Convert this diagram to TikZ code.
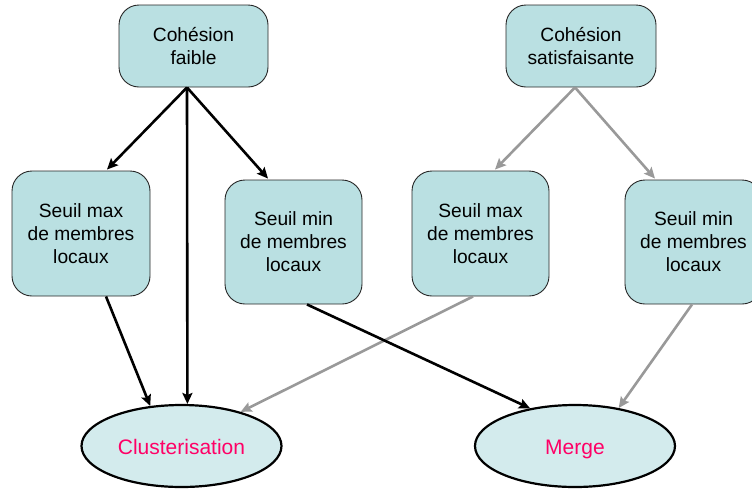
\documentclass[tikz,border=0pt]{standalone}
\usepackage{fontspec}
\setmainfont{Liberation Sans}
\usetikzlibrary{shapes.geometric,arrows.meta}
\definecolor{boxfill}{RGB}{186,224,226}
\definecolor{ellfill}{RGB}{211,235,237}
\definecolor{pinktxt}{RGB}{255,0,102}
\definecolor{grayarr}{RGB}{153,153,153}
\tikzset{
  stepbox/.style={draw=black!85, line width=0.9pt, fill=boxfill, rounded corners=20pt,
    align=center, inner sep=0pt, font=\fontsize{19.2}{23}\selectfont},
  endell/.style={ellipse, draw=black, line width=2.2pt, fill=ellfill, inner sep=0pt,
    minimum width=200pt, minimum height=82pt, text=pinktxt, text height=21pt, text depth=4pt,
    font=\fontsize{21}{24}\selectfont},
  blackarr/.style={draw=black, line width=2.6pt, -{Stealth[length=11pt,width=10pt,inset=2pt]}},
  grayarrow/.style={draw=grayarr, line width=2.6pt, -{Stealth[length=11pt,width=10pt,inset=2pt]}}
}
\begin{document}
\begin{tikzpicture}[x=1pt,y=-1pt]
\useasboundingbox (0,0) rectangle (752,488);
\begin{scope}
\clip (0,0) rectangle (752,488);
\node[stepbox, minimum width=149pt, minimum height=82pt] (cf) at (193.5,46) {Cohésion\\faible};
\node[stepbox, minimum width=150pt, minimum height=82pt] (cs) at (581,46) {Cohésion\\satisfaisante};
\node[stepbox, minimum width=138pt, minimum height=125pt] (smaxl) at (81,233.5) {Seuil max\\de membres\\locaux};
\node[stepbox, minimum width=137pt, minimum height=124pt] (sminl) at (293.5,242) {Seuil min\\de membres\\locaux};
\node[stepbox, minimum width=137pt, minimum height=125pt] (smaxr) at (480.5,233.5) {Seuil max\\de membres\\locaux};
\node[stepbox, minimum width=137pt, minimum height=124pt] (sminr) at (693.5,242) {Seuil min\\de membres\\locaux};
\node[endell] (cl) at (181.5,446) {Clusterisation};
\node[endell] (mg) at (575,446) {Merge};

\draw[blackarr] ([xshift=-6.5pt]cf.south) -- ([xshift=26pt,yshift=1pt]smaxl.north);
\draw[blackarr] ([xshift=-6.5pt]cf.south) -- (cl.82);
\draw[blackarr] ([xshift=-6.5pt]cf.south) -- ([xshift=-25.5pt,yshift=1pt]sminl.north);
\draw[grayarrow] ([xshift=-6pt]cs.south) -- ([xshift=14.5pt,yshift=1pt]smaxr.north);
\draw[grayarrow] ([xshift=-6pt]cs.south) -- ([xshift=-38.5pt,yshift=1pt]sminr.north);
\draw[blackarr] ([xshift=25pt]smaxl.south) -- (cl.128);
\draw[grayarrow] ([xshift=-7.5pt]smaxr.south) -- (cl.30);
\draw[blackarr] ([xshift=13.5pt]sminl.south) -- (mg.140);
\draw[grayarrow] ([xshift=-1.5pt]sminr.south) -- (mg.41);
\end{scope}
\end{tikzpicture}
\end{document}
